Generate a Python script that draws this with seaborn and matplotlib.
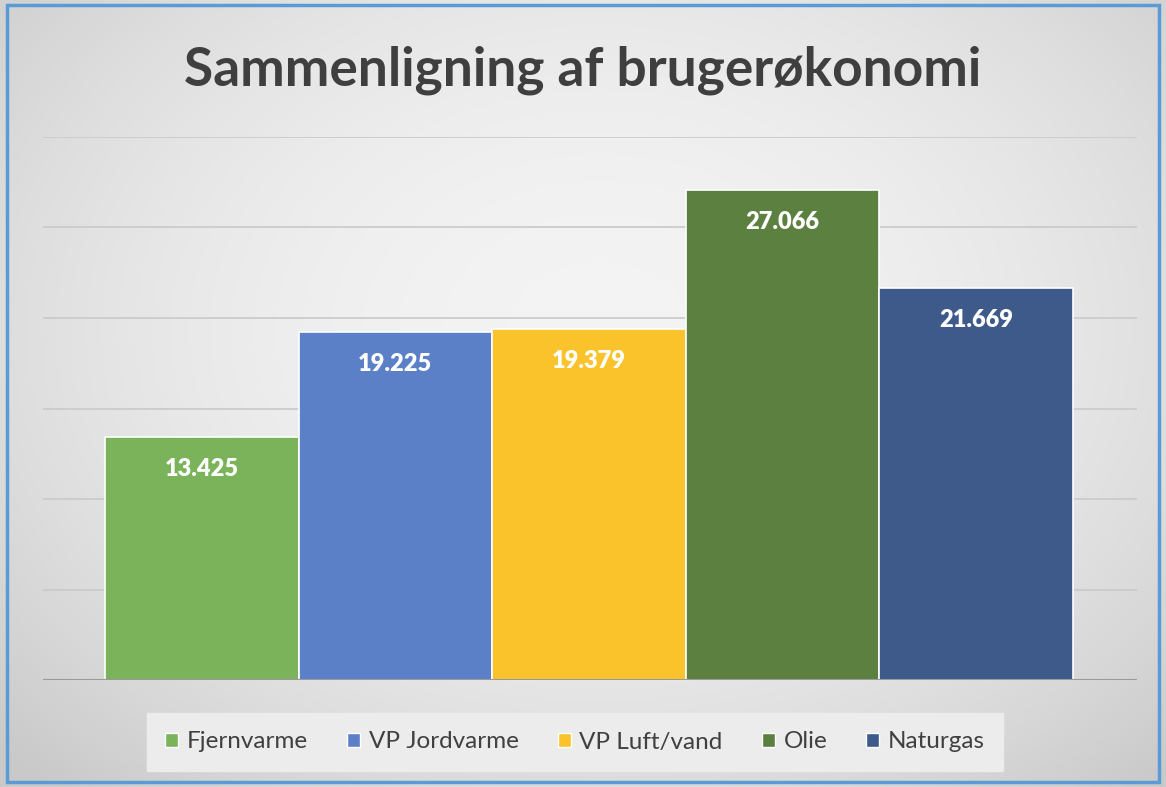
import numpy as np
import pandas as pd
import matplotlib.pyplot as plt
from matplotlib.patches import Rectangle
import seaborn as sns

# data
categories = ['Fjernvarme', 'VP Jordvarme', 'VP Luft/vand', 'Olie', 'Naturgas']
values = [13425, 19225, 19379, 27066, 21669]
labels = ['13.425', '19.225', '19.379', '27.066', '21.669']
colors = ['#7AB35A', '#5B80C8', '#FBC32B', '#5B803F', '#3D5A8A']

df = pd.DataFrame({'Type': categories, 'Pris': values})

sns.set_theme(style='white')
plt.rcParams['font.family'] = ['Lato', 'DejaVu Sans']

fig = plt.figure(figsize=(11.66, 7.87), dpi=100)

# baggrund med radial gradient
bg = fig.add_axes([0, 0, 1, 1], zorder=0)
yy, xx = np.mgrid[0:787, 0:1166]
r = np.sqrt(((xx - 600) / 700) ** 2 + ((yy - 330) / 520) ** 2)
shade = np.clip(0.955 - 0.12 * r ** 2, 0.79, 0.96)
bg.imshow(np.dstack([shade] * 3), extent=[0, 1166, 787, 0], aspect='auto')
bg.add_patch(Rectangle((7, 5), 1152, 777, fill=False, edgecolor='#5B9BD5', linewidth=2.5))
bg.set_xlim(0, 1166)
bg.set_ylim(787, 0)
bg.axis('off')

ax = fig.add_axes([43 / 1166, 107 / 787, 1094 / 1166, 543 / 787], zorder=1)
ax.patch.set_alpha(0)

sns.barplot(data=df, x='Type', y='Pris', hue='Type', palette=colors, width=1.0, saturation=1,
            edgecolor='white', linewidth=1.2, legend=False, ax=ax, zorder=2)

ax.set_xlim(-0.82, 4.83)
ax.set_ylim(0, 30000)
ax.set_yticks(range(5000, 30001, 5000))
ax.yaxis.grid(True, color='#c9c9c9', linewidth=1.2)
ax.set_axisbelow(True)
ax.axhline(0, color='#9a9a9a', linewidth=1.5, zorder=3)
for s in ax.spines.values():
    s.set_visible(False)
ax.set_xticks([])
ax.set_yticklabels([])
ax.tick_params(left=False)
ax.set_xlabel('')
ax.set_ylabel('')

for i, (v, lab) in enumerate(zip(values, labels)):
    ax.annotate(lab, (i, v), xytext=(0, -23), textcoords='offset points', ha='center', va='center',
                color='white', fontsize=17, fontweight='heavy', zorder=4)

fig.text(0.5, 1 - 70 / 787, 'Sammenligning af brugerøkonomi', ha='center', va='center',
         fontsize=38.3, fontweight='bold', color='#3f3f3f')

handles = [Rectangle((0, 0), 1, 1, facecolor=c) for c in colors]
leg = fig.legend(handles, categories, loc='center', bbox_to_anchor=(575 / 1166, 1 - 742 / 787), ncol=5,
                 frameon=True, fontsize=17.5, handlelength=0.55, handleheight=0.55, handletextpad=0.35,
                 columnspacing=1.6, borderpad=0.75, fancybox=False, labelcolor='#404040')
leg.get_frame().set_facecolor('#ececec')
leg.get_frame().set_edgecolor('#ececec')
leg.get_frame().set_alpha(1)

fig.savefig('out.png', dpi=100)
